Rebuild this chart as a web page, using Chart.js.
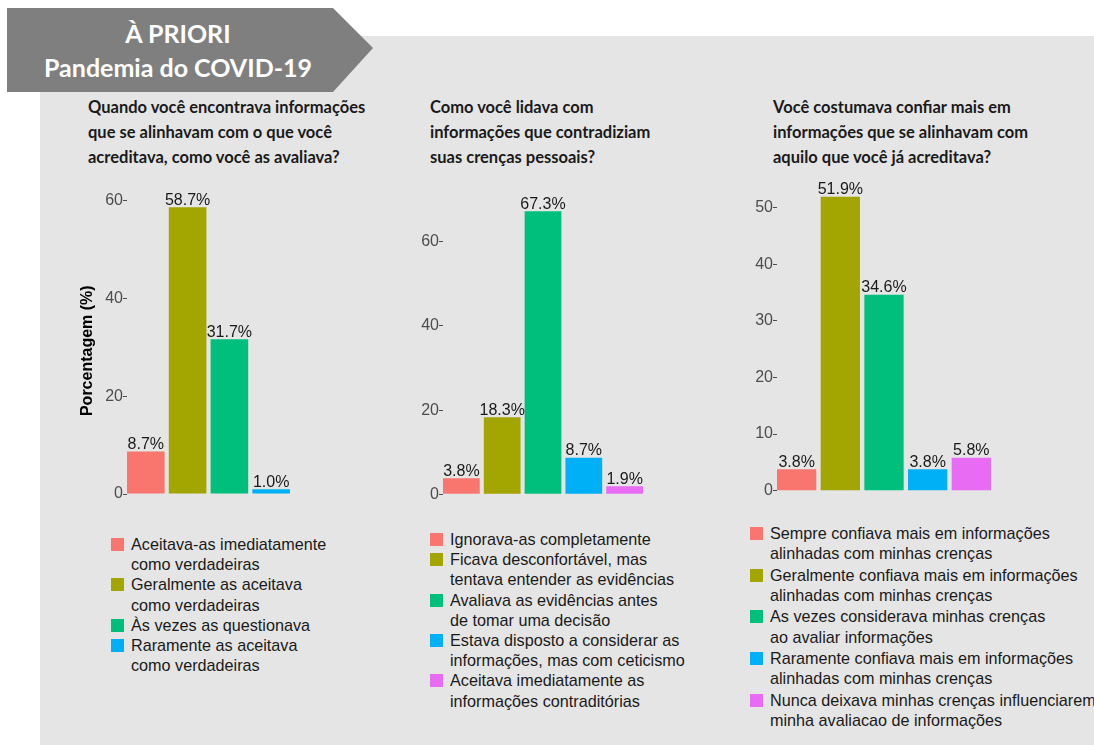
<!DOCTYPE html>
<html>
<head>
<meta charset="utf-8">
<script src="https://cdn.jsdelivr.net/npm/chart.js@4.4.1/dist/chart.umd.min.js"></script>
<style>
body { margin: 0; width: 1094px; height: 745px; background: #fff; position: relative; overflow: hidden; font-family: "Liberation Sans", Arial, sans-serif; }
#panel { position: absolute; left: 40px; top: 36px; right: 0; bottom: 0; background: #e5e5e5; }
#banner { position: absolute; left: 7px; top: 8px; width: 366px; height: 84px; background: #7f7f7f;
  clip-path: polygon(0 0, 326px 0, 366px 40px, 326px 84px, 0 84px); }
#banner div { width: 342px; padding-top: 8px; text-align: center; color: #fff; font: bold 25px Lato; line-height: 34px; }
.title { position: absolute; font: bold 16.5px Lato; line-height: 25px; color: #1a1a1a; white-space: pre; }
canvas { position: absolute; }
.legend { position: absolute; font-size: 16.2px; color: #1a1a1a; line-height: 20.2px; }
.item { display: flex; }
.box { width: 13px; height: 13px; margin-top: 4px; margin-right: 7px; flex: none; }
.lbl { white-space: pre; }
</style>
</head>
<body>
<div id="panel"></div>
<div id="banner"><div>À PRIORI<br>Pandemia do COVID-19</div></div>

<script>
// DADOS DOS GRAFICOS
const titles = [
    'Quando você encontrava informações\nque se alinhavam com o que você\nacreditava, como você as avaliava?',
    'Como você lidava com\ninformações que contradiziam\nsuas crenças pessoais?',
    'Você costumava confiar mais em\ninformações que se alinhavam com\naquilo que você já acreditava?'
];

const categories1 = ['Aceitava-as imediatamente\ncomo verdadeiras', 'Geralmente as aceitava\ncomo verdadeiras',
    'Às vezes as questionava', 'Raramente as aceitava\ncomo verdadeiras'];
const values1 = [8.7, 58.7, 31.7, 1.0];
const ticks1 = [0, 20, 40, 60];

const categories2 = ['Ignorava-as completamente', 'Ficava desconfortável, mas\ntentava entender as evidências',
    'Avaliava as evidências antes\nde tomar uma decisão', 'Estava disposto a considerar as\ninformações, mas com ceticismo',
    'Aceitava imediatamente as\ninformações contraditórias'];
const values2 = [3.8, 18.3, 67.3, 8.7, 1.9];
const ticks2 = [0, 20, 40, 60];

const categories3 = ['Sempre confiava mais em informações\nalinhadas com minhas crenças',
    'Geralmente confiava mais em informações\nalinhadas com minhas crenças',
    'As vezes considerava minhas crenças\nao avaliar informações',
    'Raramente confiava mais em informações\nalinhadas com minhas crenças',
    'Nunca deixava minhas crenças influenciarem\nminha avaliacao de informações'];
const values3 = [3.8, 51.9, 34.6, 3.8, 5.8];
const ticks3 = [0, 10, 20, 30, 40, 50];

const palette = ['#F8766D', '#A3A500', '#00BF7D', '#00B0F6', '#E76BF3'];

// POSICOES NA PAGINA
const layouts = [
    { cats: categories1, vals: values1, ticks: ticks1, left: 127, zeroY: 503, k: 5.033, step: 41.8, axisW: 49,
      yTitle: 'Porcentagem (%)', titleX: 88, legendX: 111, legendY: 534, gap: 0 },
    { cats: categories2, vals: values2, ticks: ticks2, left: 443, zeroY: 503, k: 4.333, step: 40.8, axisW: 35,
      yTitle: '', titleX: 430, legendX: 430, legendY: 529, gap: 0 },
    { cats: categories3, vals: values3, ticks: ticks3, left: 777, zeroY: 500, k: 5.84, step: 43.7, axisW: 35,
      yTitle: '', titleX: 773, legendX: 750, legendY: 523, gap: 1.3 }
];

// ROTULOS EM CIMA DAS BARRAS
const valueLabels = {
    id: 'valueLabels',
    afterDatasetsDraw(chart) {
        const ctx = chart.ctx;
        const meta = chart.getDatasetMeta(0);
        ctx.save();
        ctx.font = '16px "Liberation Sans"';
        ctx.fillStyle = '#1a1a1a';
        ctx.textAlign = 'center';
        ctx.textBaseline = 'alphabetic';
        meta.data.forEach((bar, i) => {
            ctx.fillText(chart.data.datasets[0].data[i].y.toFixed(1) + '%', bar.x, bar.y - 2.5);
        });
        ctx.restore();
    }
};

const PAD_TOP = 30, PAD_RIGHT = 12;

layouts.forEach((L, idx) => {
    // TITULO
    const t = document.createElement('div');
    t.className = 'title';
    t.style.left = L.titleX + 'px';
    t.style.top = '95px';
    t.textContent = titles[idx];
    document.body.append(t);

    // CANVAS
    const n = L.vals.length;
    const ymax = Math.max(...L.vals) * 1.05;
    const ymin = -Math.max(...L.vals) * 0.05;
    const xmin = 0.55, xmax = n + 0.45;
    const canvas = document.createElement('canvas');
    const top = Math.round(L.zeroY - ymax * L.k - PAD_TOP);
    const height = Math.round((ymax - ymin) * L.k + PAD_TOP);
    const width = Math.round(L.axisW + (xmax - xmin) * L.step + PAD_RIGHT);
    canvas.width = width;
    canvas.height = height;
    canvas.style.left = (L.left - L.axisW) + 'px';
    canvas.style.top = top + 'px';
    canvas.style.width = width + 'px';
    canvas.style.height = height + 'px';
    document.body.append(canvas);

    new Chart(canvas, {
        type: 'bar',
        data: {
            datasets: [{
                data: L.vals.map((v, i) => ({ x: i + 1, y: v })),
                backgroundColor: palette.slice(0, n),
                borderWidth: 0,
                categoryPercentage: 1,
                barPercentage: 0.9
            }]
        },
        options: {
            responsive: false,
            animation: false,
            layout: { padding: { top: PAD_TOP, right: PAD_RIGHT, left: 0, bottom: 0 } },
            plugins: { legend: { display: false }, tooltip: { enabled: false } },
            scales: {
                x: { type: 'linear', display: false, offset: false, grid: { offset: false }, min: xmin, max: xmax },
                y: {
                    min: ymin,
                    max: ymax,
                    afterBuildTicks: s => { s.ticks = L.ticks.map(v => ({ value: v })); },
                    afterFit: s => { s.width = L.axisW; },
                    grid: { drawOnChartArea: false, drawTicks: true, tickLength: 4, color: '#4d4d4d', tickWidth: 1 },
                    border: { display: false },
                    ticks: { color: '#4d4d4d', font: { family: 'Liberation Sans', size: 16 }, padding: 0 },
                    title: {
                        display: !!L.yTitle, text: L.yTitle, color: '#000', padding: 0,
                        font: { family: 'Liberation Sans', size: 16, weight: 'bold' }
                    }
                }
            }
        },
        plugins: [valueLabels]
    });

    // LEGENDA
    const lg = document.createElement('div');
    lg.className = 'legend';
    lg.style.left = L.legendX + 'px';
    lg.style.top = L.legendY + 'px';
    L.cats.forEach((c, i) => {
        const item = document.createElement('div');
        item.className = 'item';
        item.style.marginBottom = L.gap + 'px';
        item.innerHTML = `<span class="box" style="background:${palette[i]}"></span><span class="lbl"></span>`;
        item.querySelector('.lbl').textContent = c;
        lg.append(item);
    });
    document.body.append(lg);
});
</script>
</body>
</html>
